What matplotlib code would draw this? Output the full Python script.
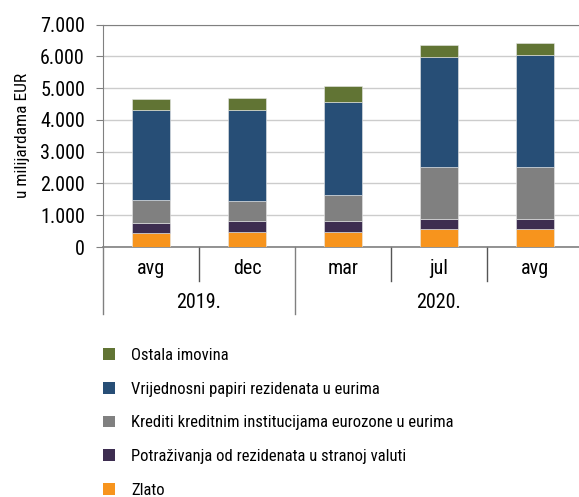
import matplotlib
matplotlib.use("Agg")
import matplotlib.pyplot as plt
import matplotlib.transforms as mtransforms
from matplotlib.patches import Patch
import numpy as np

plt.rcParams['font.family'] = ['Liberation Sans Narrow', 'Roboto Condensed', 'DejaVu Sans']
plt.rcParams['font.stretch'] = 'condensed'

kategorije = ["avg", "dec", "mar", "jul", "avg"]
godine = ["2019.", "2020."]
godine_pozicije = [0.5, 3.0]

zlato = [430, 483, 483, 556, 556]
potrazivanja = [336, 346, 335, 336, 336]
krediti = [714, 630, 829, 1616, 1637]
vrijednosni = [2822, 2843, 2928, 3463, 3526]
ostala = [368, 388, 483, 388, 377]

serije = [
    ("Zlato", zlato, "#f7941d"),
    ("Potraživanja od rezidenata u stranoj valuti", potrazivanja, "#3d2d50"),
    ("Krediti kreditnim institucijama eurozone u eurima", krediti, "#808080"),
    ("Vrijednosni papiri rezidenata u eurima", vrijednosni, "#274e76"),
    ("Ostala imovina", ostala, "#617434"),
]

W, H = 579, 497
fig = plt.figure(figsize=(W / 100, H / 100), dpi=100)
ax_h = 247 - 24.7
ax = fig.add_axes([103 / W, (H - 247) / H, 480 / W, ax_h / H])

x = np.arange(len(kategorije))
dno = np.zeros(len(kategorije))
for naziv, vrijednosti, boja in serije:
    ax.bar(x, vrijednosti, width=0.4, bottom=dno, color=boja,
           edgecolor="#e8e8e8", linewidth=0.4, zorder=3)
    dno += np.array(vrijednosti)

ax.set_xlim(-0.5, 4.5)
ax.set_ylim(0, 7000)
ax.set_yticks(range(0, 7001, 1000))
ax.set_yticklabels([f"{v:,}".replace(",", ".") for v in range(0, 7001, 1000)])
ax.yaxis.grid(True, color="#cccccc", linewidth=1, zorder=0)
ax.set_xticks([])
ax.tick_params(axis="y", length=5, color="#808080", labelsize=14.5, pad=8)
ax.set_ylabel("u milijardama EUR", fontsize=12.5, labelpad=7)

ax.spines["right"].set_visible(False)
ax.spines["top"].set_color("#808080")
ax.spines["left"].set_color("#808080")
ax.spines["bottom"].set_color("#808080")
ax.spines["bottom"].set_linewidth(1.2)

trans = mtransforms.blended_transform_factory(ax.transData, ax.transAxes)
for xs in [0.5, 2.5, 3.5]:
    ax.plot([xs, xs], [0, -34 / ax_h], color="#555555", lw=1,
            transform=trans, clip_on=False)
for xs in [-0.5, 1.5, 4.5]:
    ax.plot([xs, xs], [0, -67 / ax_h], color="#808080", lw=1,
            transform=trans, clip_on=False)

for xi, k in zip(x, kategorije):
    ax.text(xi, -21 / ax_h, k, transform=trans, ha="center", va="center",
            fontsize=14.5)
for xp, g in zip(godine_pozicije, godine):
    ax.text(xp, -56 / ax_h, g, transform=trans, ha="center", va="center",
            fontsize=14.5)

ruke = [Patch(facecolor=b, edgecolor="none", label=n) for n, _, b in serije][::-1]
fig.legend(handles=ruke, loc="upper left", bbox_to_anchor=(88 / W, 1 - 333 / H),
           frameon=False, fontsize=12, handlelength=0.7, handleheight=0.7,
           handletextpad=1.0, labelspacing=1.12)

fig.savefig("out.png", dpi=100)
